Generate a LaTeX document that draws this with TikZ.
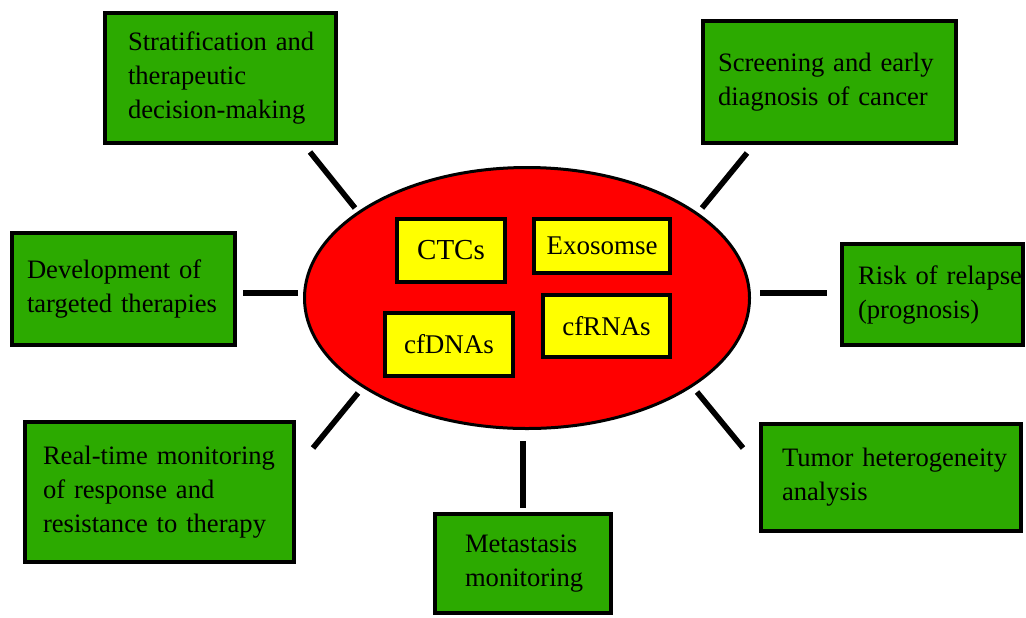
\documentclass[tikz,border=0pt]{standalone}
\usepackage{fontspec}
\setmainfont{Liberation Serif}
\usetikzlibrary{shapes.geometric}
\definecolor{leaf}{RGB}{44,170,0}
\definecolor{bloodred}{RGB}{255,0,0}
\definecolor{lemon}{RGB}{255,255,0}
\hyphenpenalty=10000
\exhyphenpenalty=10000

\begin{document}
\begin{tikzpicture}[x=0.5pt, y=-0.5pt,
  usebox/.style={draw, line width=2pt, fill=leaf, align=left, inner sep=0pt, font=\fontsize{13.3}{17}\selectfont},
  markerbox/.style={draw, line width=2pt, fill=lemon, inner sep=0pt, font=\fontsize{13.5}{17}\selectfont},
  link/.style={line width=2.8pt}]
\useasboundingbox (0,0) rectangle (1026,617);

% Liquid biopsy ellipse
\node[draw, ellipse, line width=1.5pt, fill=bloodred, inner sep=0pt, minimum width=222.5pt, minimum height=130.5pt] (bio) at (527,298) {};
\node[markerbox, minimum width=54pt, minimum height=31.5pt, font=\fontsize{14.5}{17}\selectfont] (ctc) at (451,250.5) {CTCs};
\node[markerbox, minimum width=68pt, minimum height=27pt] (exo) at (602,246) {Exosomse};
\node[markerbox, minimum width=64pt, minimum height=31.5pt] (dna) at (449,344.5) {cfDNAs};
\node[markerbox, minimum width=63.5pt, minimum height=31pt] (rna) at (606.5,326) {cfRNAs};

% Applications
\node[usebox, minimum width=115.5pt, minimum height=65pt, text width=92.5pt] (strat) at (220.5,78) {Stratification~and\\therapeutic\\decision-making};
\node[usebox, minimum width=126.5pt, minimum height=61pt, text width=111.5pt] (screen) at (829.5,82) {Screening~and~early\\diagnosis~of~cancer};
\node[usebox, minimum width=111.5pt, minimum height=56pt, text width=96.5pt] (dev) at (123.5,289) {Development~of\\targeted~therapies};
\node[usebox, minimum width=90.5pt, minimum height=50.5pt, text width=74.5pt] (risk) at (932.5,294.5) {Risk~of~relapse\\(prognosis)};
\node[usebox, minimum width=134.5pt, minimum height=70pt, text width=116.5pt] (real) at (159.5,492) {Real-time~monitoring\\of~response~and\\resistance~to~therapy};
\node[usebox, minimum width=88pt, minimum height=49.5pt, text width=58pt] (meta) at (523,563.5) {Metastasis\\monitoring};
\node[usebox, minimum width=130pt, minimum height=53.5pt, text width=109pt] (tumor) at (891,477.5) {Tumor~heterogeneity\\analysis};

% Spokes
\coordinate (tl-in) at (355,208); \coordinate (tl-out) at (310,152);
\coordinate (tr-in) at (702,208); \coordinate (tr-out) at (747,153);
\coordinate (l-in) at (298,293); \coordinate (l-out) at (243,293);
\coordinate (r-in) at (760,293); \coordinate (r-out) at (827,293);
\coordinate (bl-in) at (358,393); \coordinate (bl-out) at (313,448);
\coordinate (b-in) at (523,441); \coordinate (b-out) at (523,508);
\coordinate (br-in) at (697,392); \coordinate (br-out) at (743,448);

\draw[link] (tl-in) -- (tl-out);
\draw[link] (tr-in) -- (tr-out);
\draw[link] (l-in) -- (l-out);
\draw[link] (r-in) -- (r-out);
\draw[link] (bl-in) -- (bl-out);
\draw[link] (b-in) -- (b-out);
\draw[link] (br-in) -- (br-out);
\end{tikzpicture}
\end{document}
